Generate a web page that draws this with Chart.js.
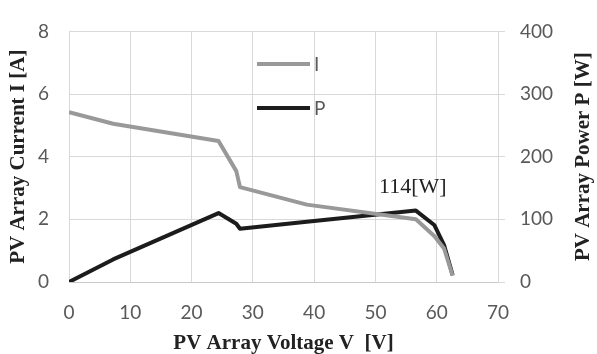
<!DOCTYPE html>
<html>
<head>
<meta charset="utf-8">
<script src="https://cdn.jsdelivr.net/npm/chart.js@4"></script>
<style>
  html, body { margin: 0; padding: 0; background: #fff; }
  #wrap { width: 597px; height: 354px; position: relative; }
</style>
</head>
<body>
<div id="wrap"><canvas id="c" width="597" height="354"></canvas></div>
<script>
// ---- data ----
const voltage = [0, 7.2, 24.4, 27.3, 27.9, 38.8, 56.6, 59.6, 61.2, 62.6];
const current = [5.42, 5.05, 4.5, 3.54, 3.03, 2.47, 2.0, 1.47, 1.07, 0.2];
const power   = [0, 36, 110, 93, 85, 96, 114, 91, 59, 11];
const xTicks = [0, 10, 20, 30, 40, 50, 60, 70];
const iTicks = [0, 2, 4, 6, 8];
const pTicks = [0, 100, 200, 300, 400];
const seriesLabels = ['I', 'P'];
const peakLabel = '114[W]';
const xTitle = 'PV Array Voltage V  [V]';
const yTitle = 'PV Array Current I [A]';
const y2Title = 'PV Array Power P [W]';

const GRID = '#d9d9d9';
const TICK = '#595959';
const GRAY = '#999999';
const BLACK = '#1c1c1c';
const tickFont = { family: 'Lato', size: 19 };
const titleFont = { family: 'Liberation Serif', size: 21, weight: 'bold', lineHeight: 1 };

const toXY = (ys) => voltage.map((v, i) => ({ x: v, y: ys[i] }));

const overlay = {
  id: 'overlay',
  afterDraw(chart) {
    const ctx = chart.ctx;
    const xs = chart.scales.x, y2 = chart.scales.y2;
    // legend
    const items = chart.data.datasets;
    const ly = [64, 108];
    ctx.save();
    items.forEach((ds, k) => {
      ctx.strokeStyle = ds.borderColor;
      ctx.lineWidth = 4;
      ctx.beginPath();
      ctx.moveTo(257, ly[k]);
      ctx.lineTo(310, ly[k]);
      ctx.stroke();
      ctx.fillStyle = TICK;
      ctx.font = '19px Lato';
      ctx.textAlign = 'left';
      ctx.textBaseline = 'middle';
      ctx.fillText(ds.label, 314, ly[k] + 1);
    });
    // peak annotation
    let im = 0;
    power.forEach((p, i) => { if (p > power[im]) im = i; });
    const px = xs.getPixelForValue(voltage[im]);
    const py = y2.getPixelForValue(power[im]);
    ctx.fillStyle = '#222';
    ctx.font = '22px "Liberation Serif"';
    ctx.textAlign = 'center';
    ctx.textBaseline = 'alphabetic';
    ctx.fillText(peakLabel, px - 3, py - 18);
    // right axis title (reads bottom-to-top)
    const ca = chart.chartArea;
    ctx.translate(584, (ca.top + ca.bottom) / 2);
    ctx.rotate(-Math.PI / 2);
    ctx.font = 'bold 21px "Liberation Serif"';
    ctx.fillStyle = '#222';
    ctx.textAlign = 'center';
    ctx.textBaseline = 'middle';
    ctx.fillText(y2Title, 0, 0);
    ctx.restore();
  }
};

new Chart(document.getElementById('c'), {
  type: 'scatter',
  data: {
    datasets: [
      { label: seriesLabels[0], data: toXY(current), yAxisID: 'y', showLine: true,
        borderColor: GRAY, borderWidth: 4, pointRadius: 0, tension: 0, borderJoinStyle: 'round' },
      { label: seriesLabels[1], data: toXY(power), yAxisID: 'y2', showLine: true,
        borderColor: BLACK, borderWidth: 4, pointRadius: 0, tension: 0, borderJoinStyle: 'round' }
    ]
  },
  options: {
    responsive: false,
    animation: false,
    devicePixelRatio: 1,
    layout: { padding: { top: 21, left: 0, right: 0, bottom: 0 } },
    plugins: { legend: { display: false }, tooltip: { enabled: false } },
    scales: {
      x: {
        type: 'linear', min: 0, max: 70,
        afterBuildTicks: (s) => { s.ticks = xTicks.map(v => ({ value: v })); },
        afterFit: (s) => { s.height = 72; },
        grid: { color: GRID, lineWidth: 1, tickLength: 0 },
        border: { color: '#c8c8c8' },
        ticks: { font: tickFont, color: TICK, padding: 19, maxRotation: 0 },
        title: { display: true, text: xTitle, font: titleFont, color: '#222', padding: { top: 0, bottom: 0 } }
      },
      y: {
        type: 'linear', position: 'left', min: 0, max: 8,
        afterBuildTicks: (s) => { s.ticks = iTicks.map(v => ({ value: v })); },
        afterFit: (s) => { s.width = 69; },
        grid: { color: GRID, lineWidth: 1, tickLength: 0 },
        border: { color: GRID },
        ticks: { font: tickFont, color: TICK, padding: 20 },
        title: { display: true, text: yTitle, font: titleFont, color: '#222', padding: { top: 8, bottom: 0 } }
      },
      y2: {
        type: 'linear', position: 'right', min: 0, max: 400,
        afterBuildTicks: (s) => { s.ticks = pTicks.map(v => ({ value: v })); },
        afterFit: (s) => { s.width = 99; },
        grid: { color: GRID, lineWidth: 1, tickLength: 7, drawOnChartArea: false },
        border: { color: GRID },
        ticks: { font: tickFont, color: TICK, padding: 15 }
      }
    }
  },
  plugins: [overlay]
});
</script>
</body>
</html>
